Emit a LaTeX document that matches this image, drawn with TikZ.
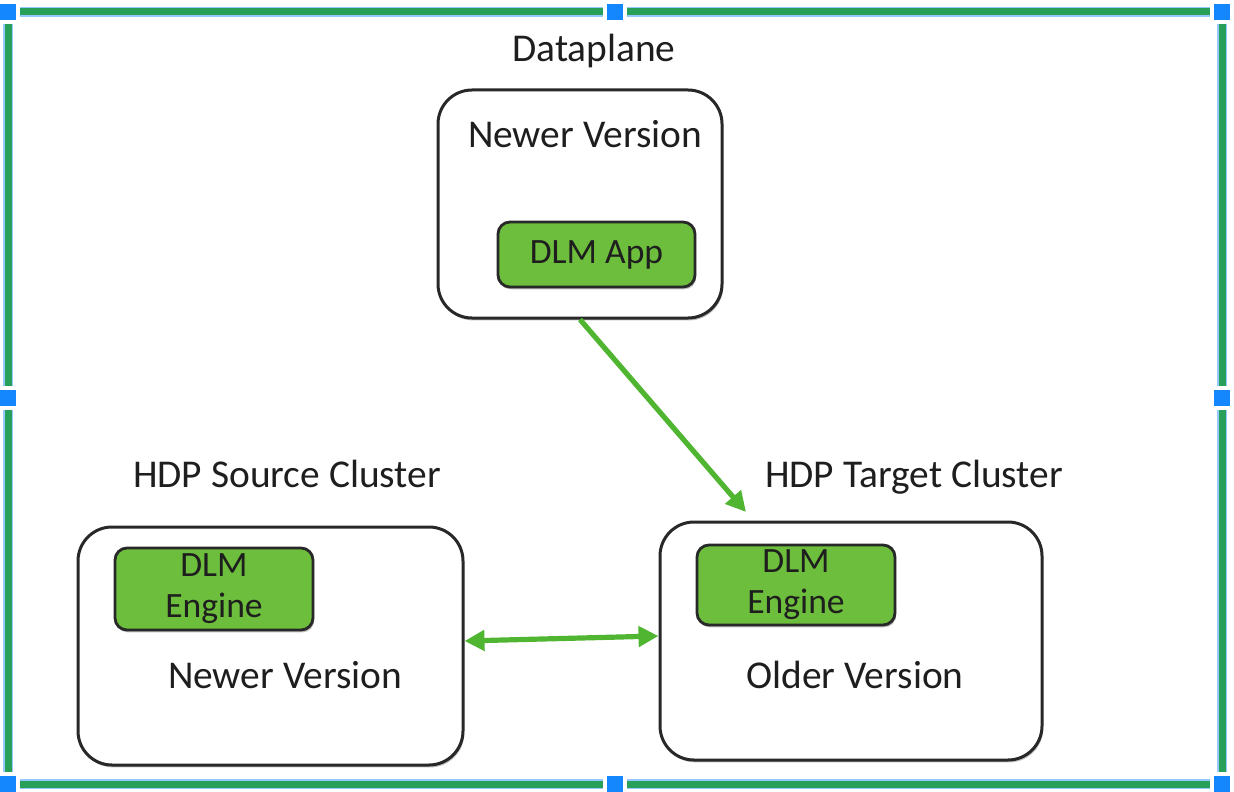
\documentclass[tikz,border=0pt]{standalone}
\usepackage{fontspec}
\setmainfont{Carlito}
\usetikzlibrary{positioning,arrows.meta,shadows}

\definecolor{framegreen}{RGB}{40,160,90}
\definecolor{handleblue}{RGB}{20,135,255}
\definecolor{arrowgreen}{RGB}{80,182,50}
\definecolor{dlmgreen}{RGB}{108,190,60}
\definecolor{boxborder}{RGB}{40,40,40}
\definecolor{textgray}{RGB}{30,30,30}

\begin{document}
\begin{tikzpicture}[
    x=0.5pt, y=-0.5pt,
    cluster/.style={rectangle, draw=boxborder, line width=1.5pt, fill=white, rounded corners=17pt, inner sep=0pt,
        drop shadow={shadow xshift=0.6pt, shadow yshift=-1.2pt, opacity=0.25, fill=black}},
    dlm/.style={rectangle, draw=boxborder, line width=1.4pt, fill=dlmgreen, rounded corners=6pt, inner sep=0pt,
        text centered, align=center, text=textgray, font=\fontsize{17.8}{20.5}\selectfont,
        drop shadow={shadow xshift=0.6pt, shadow yshift=-1.2pt, opacity=0.25, fill=black}},
    label/.style={anchor=base, text=textgray, font=\fontsize{19.7}{23}\selectfont},
    arrow/.style={draw=arrowgreen, line width=2.6pt, -{Triangle[length=10pt,width=10pt]}},
    dblarrow/.style={draw=arrowgreen, line width=2.6pt, {Triangle[length=10pt,width=10pt]}-{Triangle[length=10pt,width=10pt]}}
]
\useasboundingbox (0,0) rectangle (1234,791);

% Selection frame with handles
\draw[handleblue!45, line width=5pt] (8,12) rectangle (1222,784);
\draw[framegreen, line width=3.5pt] (8,12) rectangle (1222,784);
\foreach \hx/\hy in {8/12, 615/12, 1222/12, 8/398, 1222/398, 8/784, 615/784, 1222/784} {
    \fill[white] (\hx-12,\hy-12) rectangle (\hx+12,\hy+12);
    \fill[handleblue] (\hx-8,\hy-8) rectangle (\hx+8,\hy+8);
}

% Dataplane
\node[cluster, minimum width=142pt, minimum height=114pt] (top) at (580,204) {};
\node[label] (dptitle) at (594,62) {Dataplane};
\node[label] (topver) at (585,148) {Newer Version};
\node[dlm, minimum width=98.5pt, minimum height=32.5pt] (app) at (596.5,254.5) {DLM App};

% Source cluster
\node[cluster, minimum width=192.5pt, minimum height=119pt] (src) at (270.5,646) {};
\node[label] (srctitle) at (287,487) {HDP Source Cluster};
\node[dlm, minimum width=99pt, minimum height=41pt] (srceng) at (214,589) {DLM\\Engine};
\node[label] (srcver) at (285,688) {Newer Version};

% Target cluster
\node[cluster, minimum width=191pt, minimum height=119pt] (tgt) at (851,641) {};
\node[label] (tgttitle) at (914,487) {HDP Target Cluster};
\node[dlm, minimum width=99pt, minimum height=40pt] (tgteng) at (796,585) {DLM\\Engine};
\node[label] (tgtver) at (855,688) {Older Version};

% Connections
\coordinate (tgtin) at (746,512);
\draw[arrow] (top.south) -- (tgtin);
\draw[dblarrow] ([yshift=2.5pt]src.east) -- ([yshift=2.5pt]tgt.west);

\end{tikzpicture}
\end{document}
